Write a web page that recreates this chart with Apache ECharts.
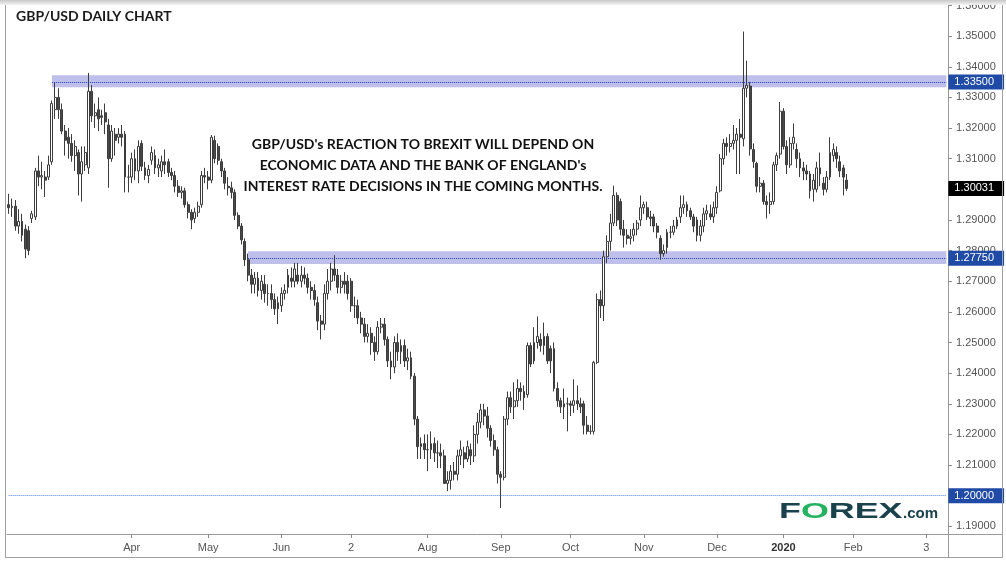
<!DOCTYPE html>
<html><head><meta charset="utf-8">
<script src="https://cdn.jsdelivr.net/npm/echarts@6/dist/echarts.min.js"></script>
<style>html,body{margin:0;padding:0;background:#fff}#c{width:1006px;height:563px}</style>
</head><body><div id="c"></div>
<script>
// ---- DATA (GBP/USD daily, Feb 2019 - Jan 2020) ----
const opens = [1.2950,1.2940,1.2945,1.2880,1.2895,1.2870,1.2865,1.2905,1.2910,1.3060,1.3040,1.3040,1.3040,1.3090,1.3260,1.3300,1.3260,1.3190,1.3170,1.3150,1.3110,1.3120,1.3050,1.3080,1.3070,1.3320,1.3240,1.3260,1.3240,1.3250,1.3210,1.3100,1.3180,1.3170,1.3180,1.3180,1.3040,1.3040,1.3100,1.3060,1.3150,1.3070,1.3045,1.3095,1.3110,1.3070,1.3060,1.3090,1.3090,1.3055,1.3045,1.3010,1.2990,1.2995,1.2950,1.2925,1.2905,1.2925,1.2950,1.3045,1.3040,1.3030,1.3160,1.3140,1.3090,1.3060,1.3010,1.3005,1.2990,1.2915,1.2880,1.2830,1.2770,1.2720,1.2690,1.2710,1.2670,1.2690,1.2660,1.2660,1.2640,1.2610,1.2620,1.2660,1.2680,1.2710,1.2700,1.2720,1.2700,1.2720,1.2710,1.2680,1.2670,1.2630,1.2570,1.2560,1.2660,1.2700,1.2740,1.2720,1.2680,1.2700,1.2700,1.2700,1.2620,1.2620,1.2580,1.2560,1.2520,1.2530,1.2500,1.2470,1.2550,1.2560,1.2510,1.2440,1.2420,1.2500,1.2470,1.2490,1.2440,1.2450,1.2390,1.2250,1.2160,1.2170,1.2150,1.2150,1.2170,1.2140,1.2140,1.2130,1.2040,1.2050,1.2080,1.2070,1.2130,1.2140,1.2120,1.2150,1.2130,1.2200,1.2240,1.2280,1.2260,1.2220,1.2180,1.2150,1.2070,1.2060,1.2250,1.2320,1.2290,1.2310,1.2350,1.2340,1.2330,1.2490,1.2440,1.2500,1.2510,1.2490,1.2520,1.2480,1.2480,1.2350,1.2310,1.2290,1.2300,1.2300,1.2295,1.2310,1.2300,1.2300,1.2230,1.2210,1.2210,1.2435,1.2640,1.2620,1.2780,1.2830,1.2890,1.2980,1.2960,1.2870,1.2850,1.2840,1.2850,1.2870,1.2900,1.2940,1.2940,1.2910,1.2910,1.2880,1.2840,1.2790,1.2810,1.2860,1.2860,1.2880,1.2910,1.2940,1.2950,1.2930,1.2910,1.2900,1.2850,1.2880,1.2920,1.2920,1.2910,1.2940,1.2995,1.3100,1.3150,1.3140,1.3150,1.3160,1.3180,1.3165,1.3330,1.3337,1.3130,1.3085,1.3010,1.3020,1.2960,1.2950,1.2960,1.3080,1.3115,1.3255,1.3140,1.3080,1.3150,1.3130,1.3100,1.3070,1.3060,1.3050,1.3000,1.3000,1.3070,1.3020,1.3000,1.3040,1.3110,1.3120,1.3090,1.3070,1.3030];
const closes = [1.2940,1.2945,1.2880,1.2895,1.2850,1.2805,1.2800,1.2920,1.3060,1.3040,1.3045,1.3030,1.3080,1.3280,1.3300,1.3260,1.3190,1.3160,1.3150,1.3110,1.3140,1.3050,1.3090,1.3120,1.3320,1.3240,1.3250,1.3230,1.3235,1.3220,1.3100,1.3190,1.3160,1.3180,1.3170,1.3040,1.3040,1.3100,1.3060,1.3140,1.3075,1.3045,1.3065,1.3120,1.3070,1.3080,1.3090,1.3080,1.3055,1.3045,1.3010,1.2990,1.2995,1.2950,1.2925,1.2900,1.2925,1.2945,1.3045,1.3040,1.3030,1.3170,1.3100,1.3095,1.3060,1.3020,1.3005,1.2990,1.2915,1.2880,1.2835,1.2770,1.2720,1.2690,1.2710,1.2670,1.2700,1.2660,1.2660,1.2640,1.2610,1.2630,1.2660,1.2670,1.2720,1.2700,1.2740,1.2700,1.2720,1.2710,1.2680,1.2670,1.2640,1.2570,1.2560,1.2660,1.2700,1.2740,1.2720,1.2680,1.2700,1.2690,1.2660,1.2620,1.2620,1.2580,1.2560,1.2520,1.2530,1.2500,1.2470,1.2550,1.2560,1.2510,1.2440,1.2420,1.2500,1.2470,1.2490,1.2440,1.2450,1.2390,1.2250,1.2160,1.2170,1.2150,1.2150,1.2170,1.2140,1.2140,1.2130,1.2040,1.2050,1.2080,1.2070,1.2130,1.2150,1.2120,1.2160,1.2130,1.2200,1.2240,1.2280,1.2260,1.2220,1.2180,1.2150,1.2070,1.2060,1.2250,1.2320,1.2290,1.2310,1.2350,1.2340,1.2320,1.2490,1.2430,1.2500,1.2520,1.2490,1.2520,1.2440,1.2440,1.2350,1.2310,1.2290,1.2300,1.2300,1.2295,1.2310,1.2300,1.2290,1.2230,1.2210,1.2210,1.2435,1.2640,1.2620,1.2780,1.2830,1.2890,1.2980,1.2900,1.2870,1.2850,1.2840,1.2845,1.2870,1.2890,1.2940,1.2950,1.2910,1.2905,1.2880,1.2860,1.2790,1.2800,1.2860,1.2860,1.2880,1.2900,1.2940,1.2950,1.2930,1.2910,1.2880,1.2850,1.2880,1.2920,1.2930,1.2910,1.2940,1.2990,1.3100,1.3150,1.3140,1.3150,1.3160,1.3180,1.3170,1.3330,1.3340,1.3132,1.3090,1.3010,1.3020,1.2960,1.2950,1.2960,1.3080,1.3110,1.3255,1.3140,1.3080,1.3150,1.3170,1.3100,1.3070,1.3060,1.3050,1.2995,1.3030,1.3070,1.3050,1.3000,1.3040,1.3120,1.3130,1.3100,1.3060,1.3040,1.3003];
const lows = [1.2920,1.2910,1.2865,1.2855,1.2830,1.2775,1.2785,1.2890,1.2900,1.3010,1.3000,1.2975,1.3030,1.3080,1.3230,1.3230,1.3180,1.3110,1.3100,1.3090,1.3060,1.2980,1.2960,1.3060,1.3050,1.3220,1.3200,1.3190,1.3210,1.3180,1.3005,1.3090,1.3110,1.3150,1.3140,1.2990,1.2990,1.3020,1.3030,1.3020,1.3060,1.3030,1.3020,1.3080,1.3050,1.3040,1.3040,1.3050,1.3040,1.3030,1.2990,1.2975,1.2970,1.2940,1.2905,1.2870,1.2890,1.2910,1.2940,1.3020,1.3000,1.3020,1.3085,1.3080,1.3040,1.3000,1.2980,1.2970,1.2900,1.2870,1.2820,1.2750,1.2700,1.2660,1.2660,1.2650,1.2640,1.2630,1.2620,1.2610,1.2590,1.2560,1.2600,1.2640,1.2660,1.2680,1.2680,1.2690,1.2680,1.2690,1.2660,1.2640,1.2620,1.2540,1.2510,1.2540,1.2640,1.2670,1.2700,1.2660,1.2660,1.2660,1.2640,1.2600,1.2580,1.2560,1.2530,1.2500,1.2500,1.2460,1.2440,1.2460,1.2530,1.2490,1.2420,1.2380,1.2400,1.2440,1.2430,1.2420,1.2410,1.2380,1.2230,1.2120,1.2120,1.2120,1.2080,1.2120,1.2110,1.2090,1.2090,1.2040,1.2015,1.2020,1.2050,1.2050,1.2100,1.2090,1.2110,1.2100,1.2110,1.2170,1.2220,1.2230,1.2190,1.2160,1.2130,1.2040,1.1960,1.2050,1.2230,1.2270,1.2250,1.2290,1.2310,1.2280,1.2320,1.2420,1.2430,1.2480,1.2470,1.2460,1.2430,1.2400,1.2340,1.2290,1.2270,1.2250,1.2210,1.2260,1.2270,1.2280,1.2270,1.2200,1.2200,1.2200,1.2200,1.2430,1.2580,1.2570,1.2760,1.2800,1.2880,1.2880,1.2850,1.2810,1.2820,1.2820,1.2830,1.2850,1.2880,1.2920,1.2900,1.2880,1.2860,1.2840,1.2770,1.2780,1.2790,1.2840,1.2850,1.2870,1.2890,1.2920,1.2910,1.2900,1.2860,1.2830,1.2830,1.2860,1.2900,1.2900,1.2890,1.2920,1.2990,1.3080,1.3110,1.3120,1.3130,1.3050,1.3050,1.3140,1.3300,1.3110,1.3070,1.2990,1.2990,1.2950,1.2905,1.2920,1.2950,1.3060,1.3100,1.3130,1.3050,1.3070,1.3130,1.3070,1.3040,1.3030,1.3030,1.2970,1.2960,1.2990,1.3010,1.2980,1.2990,1.3030,1.3090,1.3070,1.3040,1.2980,1.2995];
const highs = [1.2985,1.2970,1.2965,1.2935,1.2920,1.2885,1.2880,1.2930,1.3070,1.3110,1.3090,1.3060,1.3110,1.3290,1.3350,1.3330,1.3280,1.3210,1.3200,1.3180,1.3160,1.3130,1.3140,1.3140,1.3380,1.3340,1.3280,1.3300,1.3260,1.3280,1.3230,1.3210,1.3200,1.3200,1.3210,1.3190,1.3080,1.3120,1.3130,1.3160,1.3160,1.3090,1.3080,1.3140,1.3130,1.3100,1.3110,1.3130,1.3100,1.3070,1.3060,1.3030,1.3010,1.3005,1.2960,1.2935,1.2940,1.2960,1.3060,1.3070,1.3060,1.3177,1.3175,1.3150,1.3100,1.3070,1.3040,1.3025,1.3000,1.2925,1.2890,1.2840,1.2790,1.2740,1.2730,1.2730,1.2720,1.2720,1.2690,1.2690,1.2660,1.2650,1.2680,1.2690,1.2740,1.2745,1.2760,1.2760,1.2750,1.2745,1.2725,1.2700,1.2690,1.2650,1.2590,1.2690,1.2740,1.2760,1.2785,1.2740,1.2720,1.2730,1.2720,1.2710,1.2650,1.2640,1.2600,1.2580,1.2560,1.2550,1.2520,1.2570,1.2580,1.2580,1.2520,1.2470,1.2520,1.2530,1.2510,1.2510,1.2480,1.2470,1.2400,1.2260,1.2190,1.2200,1.2200,1.2210,1.2190,1.2180,1.2170,1.2150,1.2080,1.2100,1.2110,1.2150,1.2180,1.2160,1.2180,1.2170,1.2230,1.2270,1.2300,1.2300,1.2290,1.2230,1.2200,1.2160,1.2080,1.2260,1.2340,1.2340,1.2370,1.2380,1.2370,1.2360,1.2500,1.2500,1.2550,1.2585,1.2530,1.2565,1.2530,1.2490,1.2500,1.2370,1.2320,1.2350,1.2320,1.2310,1.2380,1.2360,1.2320,1.2310,1.2260,1.2230,1.2440,1.2660,1.2670,1.2800,1.2850,1.2920,1.3012,1.2990,1.2970,1.2900,1.2870,1.2870,1.2890,1.2900,1.2980,1.2960,1.2960,1.2930,1.2920,1.2890,1.2850,1.2820,1.2870,1.2880,1.2900,1.2910,1.2980,1.2980,1.2960,1.2940,1.2920,1.2910,1.2900,1.2940,1.2950,1.2950,1.2960,1.3010,1.3115,1.3165,1.3170,1.3180,1.3210,1.3200,1.3230,1.3515,1.3420,1.3350,1.3150,1.3090,1.3040,1.3030,1.2980,1.2990,1.3090,1.3120,1.3285,1.3265,1.3160,1.3170,1.3215,1.3150,1.3120,1.3090,1.3080,1.3060,1.3050,1.3090,1.3120,1.3040,1.3060,1.3170,1.3150,1.3140,1.3110,1.3080,1.3050];

const totalSlots = 283; // bars + empty space on the right
const xTickIdx = [37, 60, 82, 103, 126, 148, 169, 191, 213, 233, 254, 276];
const xTickLabels = ['Apr', 'May', 'Jun', '2', 'Aug', 'Sep', 'Oct', 'Nov', 'Dec', '2020', 'Feb', '3'];
const resistanceLevel = 1.335, resistanceBand = [1.3333, 1.3372], resistanceStart = 13;
const supportLevel = 1.2775, supportBand = [1.2756, 1.2798], supportStart = 72;
const psychLevel = 1.20;
const lastPrice = 1.30031;
const yMin = 1.1875, yMax = 1.3614;

// ---- CHART ----
const categories = [];
for (let i = 0; i < totalSlots; i++) categories.push(String(i));
const candles = opens.map((o, i) => [o, closes[i], lows[i], highs[i]]);
const lastIdx = totalSlots - 1;
const FONT = "'Liberation Sans', Arial, sans-serif";

function boxLabel(text, bg) {
  return { show: true, position: 'end', distance: 2, formatter: text, color: '#fff',
    backgroundColor: bg, padding: [2, 10, 1, 6], fontSize: 11, fontFamily: FONT, lineHeight: 12 };
}
const darkDots = { color: '#2a3fb0', type: 'dotted', width: 1 };
const lightDots = { color: '#4a86e8', type: 'dotted', width: 1 };
const noLine = { color: 'rgba(0,0,0,0)', width: 0.1 };

const chart = echarts.init(document.getElementById('c'), null, { renderer: 'canvas' });
chart.setOption({
  animation: false,
  backgroundColor: '#ffffff',
  grid: { left: 7, right: 58, top: 0, bottom: 29, containLabel: false },
  xAxis: {
    type: 'category', data: categories, boundaryGap: true,
    axisLine: { show: true, lineStyle: { color: '#9a9a9a', width: 1 } },
    axisTick: { show: true, length: 4, alignWithLabel: true, lineStyle: { color: '#8a8a8a' },
      interval: (idx) => xTickIdx.includes(idx) },
    axisLabel: { interval: (idx) => xTickIdx.includes(idx), color: '#555', fontSize: 11, fontFamily: FONT, margin: 8,
      formatter: (v, idx) => { const k = xTickIdx.indexOf(Number(v)); if (k < 0) return ''; const t = xTickLabels[k]; return t === '2020' ? '{b|2020}' : t; },
      rich: { b: { fontWeight: 'bold', color: '#333', fontSize: 11, fontFamily: FONT } } },
    splitLine: { show: false }
  },
  yAxis: {
    type: 'value', position: 'right', scale: true, min: yMin, max: yMax,
    splitNumber: 17, minInterval: 0.01, maxInterval: 0.01,
    axisLine: { show: true, lineStyle: { color: '#9a9a9a', width: 1 } },
    axisTick: { show: true, length: 4, lineStyle: { color: '#8a8a8a' } },
    axisLabel: { color: '#555', fontSize: 11, fontFamily: FONT, margin: 8, showMinLabel: false, showMaxLabel: false,
      formatter: (v) => v.toFixed(5) },
    splitLine: { show: false }
  },
  series: [{
    type: 'candlestick', data: candles, barWidth: '72%', clip: true,
    itemStyle: { color: '#ffffff', color0: '#4a4a4a', borderColor: '#3c3c3c', borderColor0: '#3c3c3c', borderWidth: 1 },
    markArea: {
      silent: true,
      itemStyle: { color: 'rgba(110,112,210,0.45)' },
      data: [
        [{ xAxis: resistanceStart, yAxis: resistanceBand[0] }, { xAxis: lastIdx, yAxis: resistanceBand[1] }],
        [{ xAxis: supportStart, yAxis: supportBand[0] }, { xAxis: lastIdx, yAxis: supportBand[1] }]
      ]
    },
    markLine: {
      silent: true, symbol: ['none', 'none'],
      lineStyle: darkDots,
      data: [
        [{ coord: [resistanceStart, resistanceLevel], lineStyle: darkDots, label: boxLabel(resistanceLevel.toFixed(5), '#1f4aa5') },
         { coord: [lastIdx, resistanceLevel], lineStyle: darkDots }],
        [{ coord: [supportStart, supportLevel], lineStyle: darkDots, label: boxLabel(supportLevel.toFixed(5), '#1f4aa5') },
         { coord: [lastIdx, supportLevel], lineStyle: darkDots }],
        [{ coord: [0, psychLevel], lineStyle: lightDots, label: boxLabel(psychLevel.toFixed(5), '#1f4aa5') },
         { coord: [lastIdx, psychLevel], lineStyle: lightDots }],
        [{ coord: [opens.length - 1, lastPrice], lineStyle: noLine, label: boxLabel(lastPrice.toFixed(5), '#000000') },
         { coord: [lastIdx, lastPrice], lineStyle: noLine }]
      ]
    }
  }],
  graphic: [
    { type: 'rect', left: 0, top: 0, z: 100, shape: { width: 1006, height: 5 },
      style: { fill: new echarts.graphic.LinearGradient(0, 0, 0, 1, [{ offset: 0, color: '#c8c8c8' }, { offset: 1, color: '#f4f4f4' }]) } },
    { type: 'line', z: 50, shape: { x1: 5.5, y1: 4, x2: 5.5, y2: 558 }, style: { stroke: '#a0a0a0', lineWidth: 1 } },
    { type: 'line', z: 50, shape: { x1: 5.5, y1: 557.5, x2: 1003, y2: 557.5 }, style: { stroke: '#a0a0a0', lineWidth: 1 } },
    { type: 'line', z: 50, shape: { x1: 1002.5, y1: 0, x2: 1002.5, y2: 558 }, style: { stroke: '#a0a0a0', lineWidth: 1 } },
    { type: 'line', z: 50, shape: { x1: 948, y1: 534.5, x2: 1003, y2: 534.5 }, style: { stroke: '#9a9a9a', lineWidth: 1 } },
    { type: 'line', z: 50, shape: { x1: 948.5, y1: 534, x2: 948.5, y2: 558 }, style: { stroke: '#9a9a9a', lineWidth: 1 } },
    { type: 'text', left: 16, top: 9, z: 60,
      style: { text: 'GBP/USD DAILY CHART', fill: '#1a1a1a', font: "bold 14px Lato, 'Open Sans', sans-serif" } },
    { type: 'text', x: 423, y: 134, z: 60,
      style: { text: "GBP/USD's REACTION TO BREXIT WILL DEPEND ON\nECONOMIC DATA AND THE BANK OF ENGLAND's\nINTEREST RATE DECISIONS IN THE COMING MONTHS.",
        fill: '#111', font: "bold 14px Lato, 'Open Sans', sans-serif", textAlign: 'center', lineHeight: 21 } },
    { type: 'text', x: 779, y: 501, z: 60, scaleX: 1.63,
      style: { text: '{d|F}{g|O}{d|REX}', rich: {
        d: { fill: '#19424d', font: "bold 22px 'Liberation Sans', Arial, sans-serif" },
        g: { fill: '#23b25f', font: "bold 22px 'Liberation Sans', Arial, sans-serif" } } } },
    { type: 'text', x: 903, y: 506, z: 60,
      style: { text: '.com', fill: '#19424d', font: "bold 15px 'Liberation Sans', Arial, sans-serif" } }
  ]
});
</script>
</body></html>
